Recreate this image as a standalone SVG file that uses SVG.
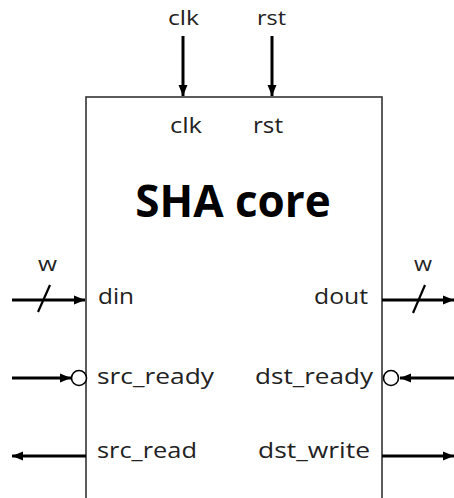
<svg xmlns="http://www.w3.org/2000/svg" width="454" height="498" viewBox="0 0 454 498">
<style>
  .lbl { font-family: "Open Sans", "Liberation Sans", sans-serif; font-size: 22px; fill: #222; }
  .top { font-size: 20px; }
  .title { font-family: "Open Sans", "Liberation Sans", sans-serif; font-size: 44px; font-weight: bold; fill: #000; }
  .wire { stroke: #000; stroke-width: 3; fill: none; }
  .slash { stroke: #000; stroke-width: 2.2; fill: none; }
  .bubble { stroke: #000; stroke-width: 1.6; fill: #fff; }
</style>
<defs>
  <marker id="ah" markerUnits="userSpaceOnUse" markerWidth="12" markerHeight="12" refX="11" refY="6" orient="auto">
    <path d="M0,1.5 L11,6 L0,10.5 Z" fill="#000"/>
  </marker>
</defs>
<rect width="454" height="498" fill="#fff"/>
<g id="sha_core">
  <rect x="86" y="97" width="296" height="420" fill="#fff" stroke="#333" stroke-width="1.6"/>
  <text class="title" x="233" y="217" text-anchor="middle">SHA core</text>
  <text class="lbl" x="170" y="133" textLength="32" lengthAdjust="spacingAndGlyphs">clk</text>
  <text class="lbl" x="253" y="133" textLength="30" lengthAdjust="spacingAndGlyphs">rst</text>
  <text class="lbl" x="98" y="304" textLength="36" lengthAdjust="spacingAndGlyphs">din</text>
  <text class="lbl" x="97" y="384" textLength="117" lengthAdjust="spacingAndGlyphs">src_ready</text>
  <text class="lbl" x="97" y="458" textLength="100" lengthAdjust="spacingAndGlyphs">src_read</text>
  <text class="lbl" x="314" y="304" textLength="54" lengthAdjust="spacingAndGlyphs">dout</text>
  <text class="lbl" x="255" y="384" textLength="118" lengthAdjust="spacingAndGlyphs">dst_ready</text>
  <text class="lbl" x="258" y="458" textLength="112" lengthAdjust="spacingAndGlyphs">dst_write</text>
</g>
<g id="labels">
  <text class="lbl top" x="168" y="25" textLength="31" lengthAdjust="spacingAndGlyphs">clk</text>
  <text class="lbl top" x="257" y="25" textLength="29" lengthAdjust="spacingAndGlyphs">rst</text>
  <text class="lbl top" x="38" y="271" textLength="19" lengthAdjust="spacingAndGlyphs">w</text>
  <text class="lbl top" x="414" y="271" textLength="18" lengthAdjust="spacingAndGlyphs">w</text>
</g>
<g id="connectors">
  <line class="wire" x1="183" y1="36" x2="183" y2="96" marker-end="url(#ah)"/>
  <line class="wire" x1="272" y1="36" x2="272" y2="96" marker-end="url(#ah)"/>
  <line class="wire" x1="12" y1="300" x2="85" y2="300" marker-end="url(#ah)"/>
  <line class="slash" x1="38" y1="312" x2="50" y2="285"/>
  <line class="wire" x1="12" y1="378" x2="71" y2="378" marker-end="url(#ah)"/>
  <circle class="bubble" cx="79" cy="378" r="7.5"/>
  <line class="wire" x1="86" y1="456" x2="12" y2="456" marker-end="url(#ah)"/>
  <line class="wire" x1="382" y1="300" x2="454" y2="300" marker-end="url(#ah)"/>
  <line class="slash" x1="413" y1="313" x2="425" y2="285"/>
  <line class="wire" x1="454" y1="378" x2="400" y2="378" marker-end="url(#ah)"/>
  <circle class="bubble" cx="391" cy="378" r="7.5"/>
  <line class="wire" x1="382" y1="456" x2="454" y2="456" marker-end="url(#ah)"/>
</g>
</svg>
